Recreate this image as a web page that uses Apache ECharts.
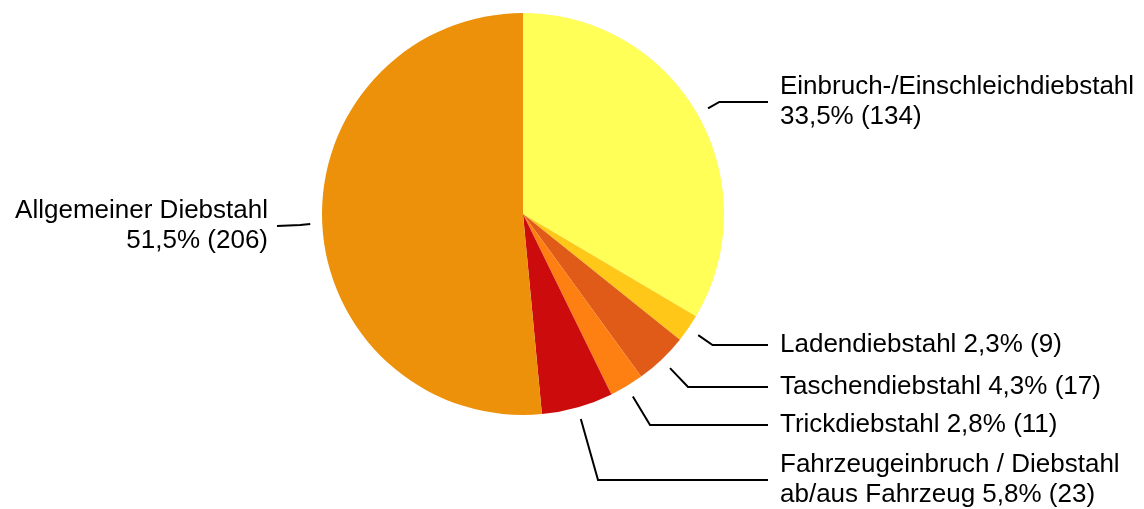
<!DOCTYPE html>
<html>
<head>
<meta charset="utf-8">
<script src="https://cdn.jsdelivr.net/npm/echarts@6/dist/echarts.min.js"></script>
<style>
  html, body { margin: 0; padding: 0; background: #fff; }
  #chart { width: 1144px; height: 509px; }
</style>
</head>
<body>
<div id="chart"></div>
<script>
// Diebstahl nach Deliktsart (Anzahl der Fälle)
const categories = [
  'Einbruch-/Einschleichdiebstahl',
  'Ladendiebstahl',
  'Taschendiebstahl',
  'Trickdiebstahl',
  'Fahrzeugeinbruch / Diebstahl\nab/aus Fahrzeug',
  'Allgemeiner Diebstahl'
];
const values = [134, 9, 17, 11, 23, 206];
// separator between name and share in each label
const labelBreaks = ['\n', ' ', ' ', ' ', ' ', '\n'];
const colors = ['#FFFF58', '#FFC819', '#E05A18', '#FF8012', '#CC0C0C', '#EC9109'];

// pie geometry and label column layout
const CX = 523, CY = 214, R = 201;
const labelCenterY = [102, 345, 387, 425, 480, 226];
const RIGHT_TEXT_X = 780, RIGHT_LINE_END = 768;
const LEFT_TEXT_X = 268, LEFT_LINE_END = 277;

const total = values.reduce((a, b) => a + b, 0);
const fmtPct = v => (Math.round(v * 1000 / total) / 10).toFixed(1).replace('.', ',') + '%';

// mid angle of each slice, clockwise from 12 o'clock
const midAngles = [];
{
  let acc = 0;
  values.forEach(v => {
    midAngles.push((acc + v / 2) / total * 2 * Math.PI);
    acc += v;
  });
}

const chart = echarts.init(document.getElementById('chart'), null, { renderer: 'canvas' });

chart.setOption({
  animation: false,
  backgroundColor: '#ffffff',
  color: colors,
  series: [{
    type: 'pie',
    center: [CX, CY],
    radius: R,
    startAngle: 90,
    clockwise: true,
    avoidLabelOverlap: false,
    itemStyle: { borderWidth: 0 },
    emphasis: { disabled: true },
    label: {
      show: true,
      position: 'outside',
      color: '#000',
      fontFamily: '"Liberation Sans", Arial, sans-serif',
      fontSize: 26,
      lineHeight: 30,
      formatter: p => p.name + labelBreaks[p.dataIndex] + fmtPct(p.value) + ' (' + p.value + ')'
    },
    labelLine: {
      show: true,
      lineStyle: { color: '#000', width: 2 }
    },
    labelLayout: params => {
      const i = params.dataIndex;
      const a = midAngles[i];
      const dx = Math.sin(a), dy = -Math.cos(a);
      const y = labelCenterY[i];
      const right = dx >= 0;
      const p0 = [CX + (R + 12) * dx, CY + (R + 12) * dy];
      let p1;
      if (Math.abs(dy) > 0.2) {
        const r1 = Math.max(R + 20, (y - CY) / dy);
        p1 = [CX + r1 * dx, y];
      } else {
        p1 = [CX + (R + 22) * dx, (p0[1] + y) / 2];
      }
      const p2 = [right ? RIGHT_LINE_END : LEFT_LINE_END, y];
      return {
        x: right ? RIGHT_TEXT_X : LEFT_TEXT_X,
        y: y,
        align: right ? 'left' : 'right',
        verticalAlign: 'middle',
        labelLinePoints: [p0, p1, p2]
      };
    },
    data: categories.map((name, i) => ({ name, value: values[i] }))
  }]
});
</script>
</body>
</html>
